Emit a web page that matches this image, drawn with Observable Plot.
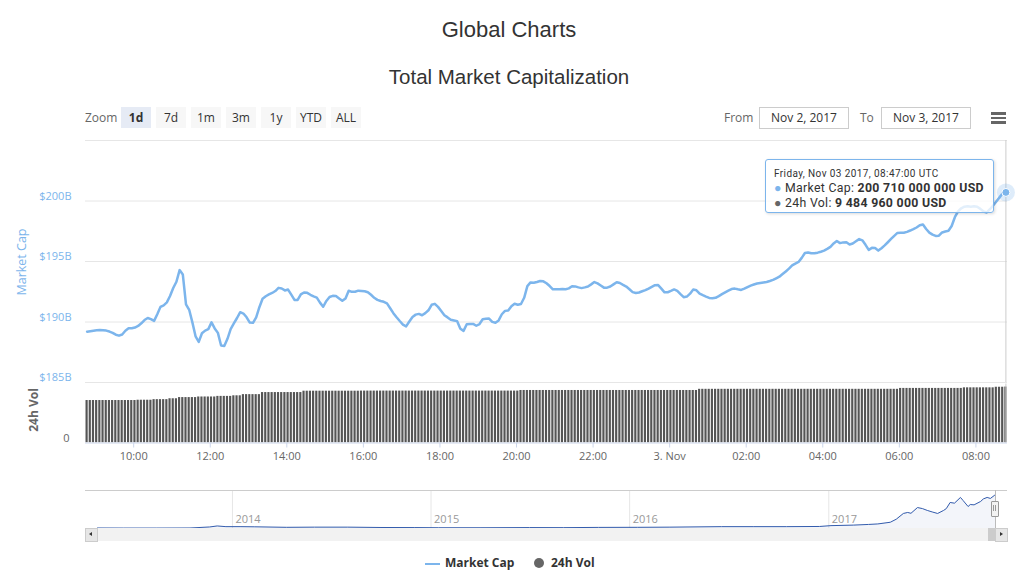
<!DOCTYPE html>
<html><head><meta charset="utf-8">
<script src="https://cdn.jsdelivr.net/npm/d3@7"></script>
<script src="https://cdn.jsdelivr.net/npm/@observablehq/plot@0.6"></script>
<style>
body{margin:0;background:#fff;}
#root{position:relative;width:1024px;height:579px;overflow:hidden;background:#fff;font-family:"Open Sans",sans-serif;color:#333;}
.abs{position:absolute;}
.title{left:0;width:1018px;text-align:center;font-family:"Liberation Sans",Arial,sans-serif;color:#333;}
.btn{position:absolute;top:107px;height:21px;width:30px;line-height:21px;text-align:center;font-size:12px;background:#f7f7f7;color:#333;}
.btn.sel{background:#e6ebf5;font-weight:bold;}
.inp{position:absolute;top:107px;height:20px;line-height:20px;width:88px;border:1px solid #ccc;text-align:center;font-size:12px;color:#333;}
.lbl{position:absolute;font-size:12px;color:#666;line-height:21px;top:107px;}
.ham{position:absolute;left:991px;width:15px;height:2.5px;background:#666;}
.tl{position:absolute;left:8px;white-space:nowrap;color:#333;font-family:Roboto,sans-serif;}
svg{overflow:visible;}
</style></head><body>
<div id="root">
  <div class="abs title" style="top:17px;font-size:22px;">Global Charts</div>
  <div class="abs title" style="top:65px;font-size:20.5px;">Total Market Capitalization</div>

  <div class="lbl" style="left:85px;">Zoom</div>
  <div id="btns"></div>
  <div class="lbl" style="left:724px;">From</div>
  <div class="inp" style="left:759px;">Nov 2, 2017</div>
  <div class="lbl" style="left:860px;">To</div>
  <div class="inp" style="left:881px;">Nov 3, 2017</div>
  <div class="ham" style="top:112px"></div>
  <div class="ham" style="top:116.5px"></div>
  <div class="ham" style="top:121px"></div>

  <div id="main" class="abs" style="left:0;top:130px;"></div>
  <div id="vol" class="abs" style="left:0;top:370px;"></div>

  <div class="abs" style="left:-18px;top:254px;width:80px;text-align:center;transform:rotate(-90deg);font-size:12.5px;line-height:16px;color:#7cb5ec;">Market Cap</div>
  <div class="abs" style="left:-6px;top:402px;width:80px;text-align:center;transform:rotate(-90deg);font-size:12px;line-height:16px;font-weight:bold;color:#666;">24h Vol</div>

  <div id="nav" class="abs" style="left:0;top:485px;"></div>
  <!-- navigator chrome -->
  <div class="abs" style="left:85px;top:489.5px;width:922px;height:1px;background:#ccc;"></div>
  <div class="abs" style="left:85px;top:528px;width:922px;height:13px;background:#f2f2f2;"></div>
  <div class="abs" style="left:85px;top:528px;width:11px;height:12px;background:#e6e6e6;border:1px solid #ccc;"></div>
  <div class="abs" style="left:89px;top:532px;width:0;height:0;border-top:2.5px solid transparent;border-bottom:2.5px solid transparent;border-right:3px solid #333;"></div>
  <div class="abs" style="left:988px;top:528px;width:7px;height:13px;background:#ccc;"></div>
  <div class="abs" style="left:995px;top:528px;width:11px;height:12px;background:#e6e6e6;border:1px solid #ccc;"></div>
  <div class="abs" style="left:1000px;top:532px;width:0;height:0;border-top:2.5px solid transparent;border-bottom:2.5px solid transparent;border-left:3px solid #333;"></div>
  <div class="abs" style="left:994.5px;top:490px;width:1px;height:38px;background:#bbb;"></div>
  <div class="abs" style="left:991px;top:501px;width:6px;height:14px;background:#f2f2f2;border:1px solid #999;border-radius:1px;"></div>
  <div class="abs" style="left:993px;top:505px;width:1px;height:6px;background:#999;"></div>
  <div class="abs" style="left:995px;top:505px;width:1px;height:6px;background:#999;"></div>

  <div id="tip" class="abs" style="left:765px;top:159px;width:227px;height:52px;border:1px solid #7cb5ec;border-radius:3px;background:rgba(255,255,255,0.78);box-shadow:1px 1px 3px rgba(0,0,0,0.15);">
    <div id="tipDate" class="tl" style="top:8px;font-size:10px;line-height:11px;letter-spacing:0.4px;"></div>
    <div id="tipCapLine" class="tl" style="top:21px;font-size:12.3px;line-height:14px;letter-spacing:0.3px;"></div>
    <div id="tipVolLine" class="tl" style="top:35.5px;font-size:12.3px;line-height:14px;letter-spacing:0.3px;"></div>
  </div>

  <div class="abs" style="left:425px;top:563px;width:15px;height:2px;background:#7cb5ec;"></div>
  <div class="abs" style="left:445px;top:555px;font-size:12px;line-height:16px;font-weight:bold;color:#333;">Market Cap</div>
  <div class="abs" style="left:534px;top:558px;width:10px;height:10px;border-radius:50%;background:#666;"></div>
  <div class="abs" style="left:551px;top:555px;font-size:12px;line-height:16px;font-weight:bold;color:#333;">24h Vol</div>
</div>
<script>
// ---- data ----
const startTime = "2017-11-02T08:47:00Z";
const stepMinutes = 5;
// Total market cap, billions USD, every 5 minutes (Nov 2 08:47 -> Nov 3 08:47 UTC)
const marketCap = [
189.20,189.24,189.28,189.31,189.33,189.31,189.29,189.21,189.10,188.95,188.87,188.97,189.28,189.48,189.48,189.54,189.67,189.89,190.16,190.33,
190.24,190.09,190.64,191.25,191.38,191.62,192.15,192.81,193.33,194.29,193.93,191.46,191.01,189.97,188.82,188.36,189.07,189.29,189.41,189.97,
189.47,189.10,188.06,188.01,188.61,189.41,189.88,190.33,190.81,190.70,190.39,189.95,189.93,190.38,191.22,191.92,192.13,192.28,192.40,192.56,
192.82,192.77,192.61,192.68,192.26,191.82,191.82,192.28,192.44,192.41,192.25,192.12,192.01,191.60,191.26,191.74,192.07,192.16,192.15,191.95,
191.75,191.95,192.58,192.49,192.50,192.59,192.57,192.54,192.46,192.25,192.00,191.83,191.74,191.67,191.54,191.14,190.73,190.39,190.08,189.79,
189.64,190.04,190.42,190.61,190.67,190.56,190.73,190.97,191.42,191.50,191.25,190.90,190.56,190.38,190.19,190.13,190.07,189.44,189.27,189.81,
189.84,189.84,189.69,189.83,190.23,190.27,190.28,190.01,189.94,190.13,190.64,190.92,190.95,191.31,191.51,191.43,191.49,192.00,192.97,193.27,
193.25,193.31,193.39,193.36,193.20,192.97,192.70,192.70,192.71,192.73,192.71,192.78,192.95,192.94,192.86,192.80,192.86,192.93,193.11,193.30,193.19,
193.02,192.84,192.84,192.93,193.11,193.29,193.22,193.07,192.93,192.71,192.47,192.40,192.44,192.54,192.63,192.76,192.90,193.04,193.05,192.76,
192.45,192.46,192.57,192.69,192.57,192.30,192.05,192.10,192.34,192.69,192.62,192.35,192.22,192.10,191.99,191.96,192.00,192.14,192.30,192.45,
192.59,192.72,192.76,192.70,192.65,192.76,192.89,193.01,193.10,193.18,193.23,193.27,193.31,193.39,193.48,193.61,193.74,193.96,194.18,194.41,
194.68,194.83,194.96,195.30,195.70,195.75,195.68,195.68,195.73,195.81,195.90,196.04,196.21,196.49,196.69,196.52,196.58,196.59,196.41,196.49,
196.67,196.85,196.75,196.38,195.96,196.13,196.12,195.90,196.10,196.33,196.59,196.86,197.12,197.36,197.38,197.38,197.45,197.56,197.68,197.81,
197.99,198.06,197.69,197.39,197.22,197.11,197.13,197.40,197.48,197.54,197.93,198.66,199.14,199.40,199.53,199.57,199.53,199.57,199.52,199.35,
199.13,199.05,199.32,199.63,199.96,200.30,200.64,200.71
];
// 24h volume, billions USD, every 5 minutes
const volume24h = [
7.2,7.2,7.2,7.2,7.2,7.2,7.2,7.2,7.2,7.2,7.2,7.2,7.2,7.2,7.2,7.2,
7.25,7.25,7.25,7.25,7.25,
7.35,7.35,7.35,7.35,7.35,
7.5,7.5,7.5,
7.7,7.7,7.7,7.7,7.7,7.7,
7.8,7.8,7.8,7.8,7.8,7.8,
7.9,7.9,7.9,7.9,7.9,
8.0,8.0,8.0,
8.2,8.2,8.2,8.2,8.2,8.2,
8.55,8.55,8.55,8.55,8.55,8.55,8.55,8.55,8.55,8.55,8.55,8.55,8.55,
8.78,8.78,8.78,8.78,8.78,8.78,8.78,8.78,8.78,8.78,8.78,8.78,8.78,8.78,8.78,8.78,8.78,8.78,
8.8,8.8,8.8,8.8,8.8,8.8,8.8,8.8,8.8,8.8,8.8,8.8,8.8,8.8,8.8,8.8,8.8,8.8,8.8,8.8,8.8,8.8,8.8,8.8,8.8,
8.8,8.8,8.8,8.8,8.8,8.8,8.8,8.8,8.8,8.8,8.8,8.8,8.8,8.8,8.8,8.8,8.8,8.8,8.8,8.8,8.8,8.8,8.8,8.8,8.8,
8.9,8.9,8.9,8.9,8.9,8.9,8.9,8.9,8.9,8.9,8.9,8.9,8.9,8.9,8.9,8.9,8.9,8.9,8.9,8.9,8.9,8.9,8.9,8.9,8.9,8.9,8.9,8.9,
8.9,8.9,8.9,8.9,8.9,8.9,8.9,8.9,8.9,8.9,8.9,8.9,8.9,8.9,8.9,8.9,8.9,8.9,8.9,8.9,8.9,8.9,8.9,8.9,8.9,8.9,8.9,8.9,
9.1,9.1,9.1,9.1,9.1,9.1,9.1,9.1,9.1,9.1,9.1,9.1,9.1,9.1,9.1,9.1,9.1,9.1,9.1,9.1,9.1,9.1,9.1,9.1,9.1,9.1,9.1,9.1,9.1,9.1,9.1,9.1,
9.1,9.1,9.1,9.1,9.1,9.1,9.1,9.1,9.1,9.1,9.1,9.1,9.1,9.1,9.1,9.1,9.1,9.1,9.1,9.1,9.1,9.1,9.1,9.1,9.1,9.1,9.1,9.1,9.1,9.1,9.1,
9.25,9.25,9.25,9.25,9.25,9.25,9.25,9.25,9.25,9.25,9.25,9.25,9.25,9.25,9.25,9.25,9.25,9.25,9.25,9.25,
9.35,9.35,9.35,9.35,9.35,9.35,9.35,9.35,9.35,9.35,
9.45,9.45,9.45,9.48496
];
const capTicks = [185, 190, 195, 200];
const capGrid = [185, 190, 195, 200, 205];
const timeTicks = ["2017-11-02T10:00Z","2017-11-02T12:00Z","2017-11-02T14:00Z","2017-11-02T16:00Z","2017-11-02T18:00Z","2017-11-02T20:00Z","2017-11-02T22:00Z","2017-11-03T00:00Z","2017-11-03T02:00Z","2017-11-03T04:00Z","2017-11-03T06:00Z","2017-11-03T08:00Z"];
const timeTickLabels = ["10:00","12:00","14:00","16:00","18:00","20:00","22:00","3. Nov","02:00","04:00","06:00","08:00"];
// navigator history (billions USD)
const navDates = ["2013-04-28","2013-06-15","2013-08-15","2013-10-15","2013-11-20","2013-12-04","2013-12-20","2014-01-15","2014-02-10","2014-04-10","2014-06-01","2014-08-01","2014-10-01","2014-12-01","2015-01-15","2015-04-01","2015-07-01","2015-09-01","2015-11-05","2016-01-15","2016-03-15","2016-06-18","2016-08-15","2016-10-15","2016-12-15","2017-01-05","2017-02-15","2017-03-15","2017-04-01","2017-04-24","2017-05-05","2017-05-18","2017-05-26","2017-06-01","2017-06-13","2017-06-22","2017-07-01","2017-07-10","2017-07-20","2017-07-31","2017-08-05","2017-08-12","2017-08-20","2017-08-31","2017-09-05","2017-09-14","2017-09-18","2017-09-25","2017-10-07","2017-10-12","2017-10-19","2017-10-25","2017-11-01","2017-11-03"];
const navCaps = [3,2.5,2.5,3,9,15,11,11,10,7,8,8,6,5.5,4.5,4.5,5.5,5,6.5,7,8,11,11,11,12,17,20,24,27,37,55,89,95,90,124,118,107,98,89,107,118,154,150,184,165,130,142,140,160,175,184,178,195,201];
const navYears = ["2014-01-01","2015-01-01","2016-01-01","2017-01-01"];
const navYearLabels = ["2014","2015","2016","2017"];

// ---- build ----
const T0 = Date.parse(startTime);
const stepMs = stepMinutes * 60000;
const series = marketCap.map((v, i) => ({t: new Date(T0 + i * stepMs), v, vol: volume24h[i]}));
const last = series[series.length - 1];
const xDomain = [new Date(+series[0].t - stepMs / 2), new Date(+last.t + stepMs / 2)];
const half = stepMs * 0.34;

const main = Plot.plot({
  width: 1024, height: 262, marginTop: 10, marginBottom: 10, marginLeft: 85, marginRight: 17,
  style: {background: "transparent", fontFamily: "Open Sans, sans-serif"},
  x: {type: "utc", domain: xDomain, axis: null},
  y: {domain: [185, 205]},
  marks: [
    Plot.gridY(capGrid, {stroke: "#e6e6e6", strokeOpacity: 1}),
    Plot.axisY(capTicks, {tickSize: 0, tickPadding: 14, dy: -5, tickFormat: d => `$${d}B`, color: "#7cb5ec", fontSize: 11, label: null}),
    Plot.ruleX([last], {x: "t", stroke: "#ccc"}),
    Plot.lineY(series, {x: "t", y: "v", stroke: "#7cb5ec", strokeWidth: 2.5, curve: "linear"}),
    Plot.dot([last], {x: "t", y: "v", r: 9, fill: "#7cb5ec", fillOpacity: 0.25}),
    Plot.dot([last], {x: "t", y: "v", r: 4, fill: "#7cb5ec", stroke: "#fff", strokeWidth: 1})
  ]
});
document.getElementById("main").append(main);

const labelMap = new Map(timeTicks.map((d, i) => [+new Date(d), timeTickLabels[i]]));
const vol = Plot.plot({
  width: 1024, height: 100, marginTop: 13.5, marginBottom: 27.5, marginLeft: 85, marginRight: 17,
  style: {background: "transparent", fontFamily: "Open Sans, sans-serif"},
  x: {type: "utc", domain: xDomain},
  y: {domain: [0, 10]},
  marks: [
    Plot.rectY(series, {x1: d => new Date(+d.t - half), x2: d => new Date(+d.t + half), y: "vol", fill: "#555", clip: true}),
    Plot.ruleX([last], {x: "t", stroke: "#ccc"}),
    Plot.ruleY([0], {stroke: "#ccd6eb"}),
    Plot.axisX(timeTicks.map(d => new Date(d)), {tickSize: 5, tickPadding: 4, stroke: "#ccd6eb", fill: "#666", fontSize: 11, tickFormat: d => labelMap.get(+d), label: null}),
    Plot.axisY([0], {tickSize: 0, tickPadding: 16, dy: -5, fill: "#666", fontSize: 11, label: null})
  ]
});
document.getElementById("vol").append(vol);

const navSeries = navDates.map((d, i) => ({d: new Date(d + "T00:00Z"), v: navCaps[i]}));
navSeries[navSeries.length - 1].d = last.t;
const yearMap = new Map(navYears.map((d, i) => [+new Date(d + "T00:00Z"), navYearLabels[i]]));
const yearTicks = navYears.map(d => new Date(d + "T00:00Z"));
const nav = Plot.plot({
  width: 1024, height: 60, marginTop: 5, marginBottom: 17, marginLeft: 97, marginRight: 29,
  style: {background: "transparent", fontFamily: "Open Sans, sans-serif"},
  x: {type: "utc", domain: [navSeries[0].d, last.t]},
  y: {domain: [0, 225], axis: null},
  marks: [
    Plot.gridX(yearTicks, {stroke: "#e6e6e6", strokeOpacity: 1}),
    Plot.areaY(navSeries, {x: "d", y: "v", fill: "#335cad", fillOpacity: 0.06}),
    Plot.lineY(navSeries, {x: "d", y: "v", stroke: "#335cad", strokeWidth: 1}),
    Plot.axisX(yearTicks, {anchor: "bottom", tickSize: 0, tickPadding: 0, textAnchor: "start", dx: 3, dy: -13, fill: "#999", fontSize: 11, tickFormat: d => yearMap.get(+d), label: null})
  ]
});
document.getElementById("nav").append(nav);

// tooltip text from data
const fmtSpace = n => Math.round(n).toString().replace(/\B(?=(\d{3})+(?!\d))/g, " ");
document.getElementById("tipDate").textContent = d3.utcFormat("%A, %b %d %Y, %H:%M:%S UTC")(last.t);
document.getElementById("tipCapLine").innerHTML = `<span style="color:#7cb5ec">●</span> Market Cap: <b>${fmtSpace(last.v * 1e9)} USD</b>`;
document.getElementById("tipVolLine").innerHTML = `<span style="color:#666">●</span> 24h Vol: <b>${fmtSpace(last.vol * 1e9)} USD</b>`;

// range selector buttons
const buttons = ["1d", "7d", "1m", "3m", "1y", "YTD", "ALL"];
const btnBox = document.getElementById("btns");
buttons.forEach((b, i) => {
  const el = document.createElement("div");
  el.className = "btn" + (i === 0 ? " sel" : "");
  el.style.left = (121 + 35 * i) + "px";
  el.textContent = b;
  btnBox.append(el);
});
</script>
</body></html>
